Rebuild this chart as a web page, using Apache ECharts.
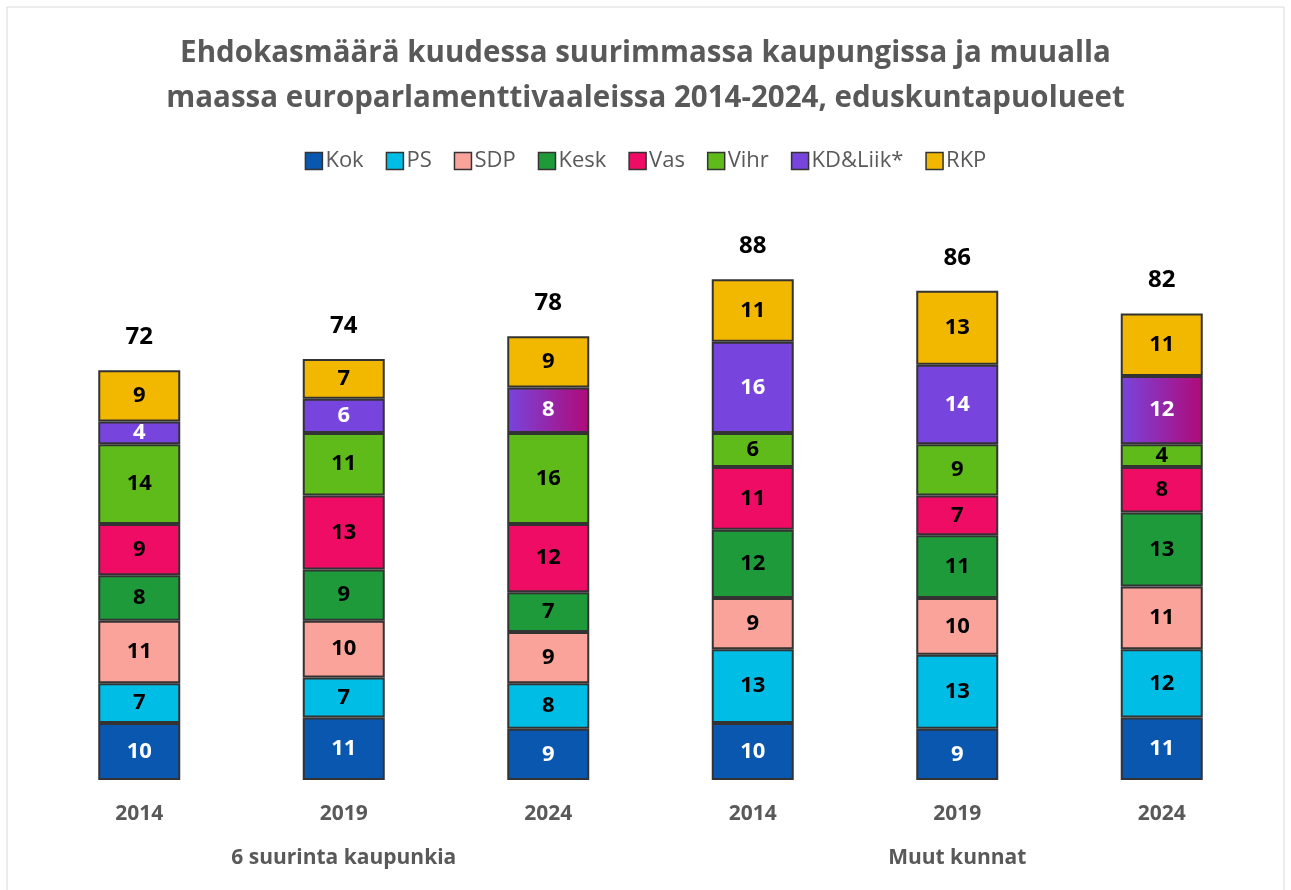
<!DOCTYPE html>
<html>
<head>
<meta charset="utf-8">
<script src="https://cdn.jsdelivr.net/npm/echarts@6/dist/echarts.min.js"></script>
<style>
  html, body { margin: 0; padding: 0; background: #fff; }
  #main { width: 1291px; height: 890px; }
</style>
</head>
<body>
<div id="main"></div>
<script>
var years = ['2014', '2019', '2024', '2014', '2019', '2024'];
var groups = ['', '6 suurinta kaupunkia', '', '', 'Muut kunnat', ''];

var kok  = [10, 11, 9, 10, 9, 11];
var ps   = [7, 7, 8, 13, 13, 12];
var sdp  = [11, 10, 9, 9, 10, 11];
var kesk = [8, 9, 7, 12, 11, 13];
var vas  = [9, 13, 12, 11, 7, 8];
var vihr = [14, 11, 16, 6, 9, 4];
var kd   = [4, 6, 8, 16, 14, 12];
var rkp  = [9, 7, 9, 11, 13, 11];

var parties = [
  { name: 'Kok', data: kok, color: '#0a57b0', text: '#fff' },
  { name: 'PS', data: ps, color: '#00bde5', text: '#000' },
  { name: 'SDP', data: sdp, color: '#f9a39a', text: '#000' },
  { name: 'Kesk', data: kesk, color: '#1f9a3b', text: '#000' },
  { name: 'Vas', data: vas, color: '#ef0c65', text: '#000' },
  { name: 'Vihr', data: vihr, color: '#5fbb1a', text: '#000' },
  { name: 'KD&Liik*', data: kd, color: '#7745dd', text: '#fff' },
  { name: 'RKP', data: rkp, color: '#f2b800', text: '#000' }
];

var totals = years.map(function (y, i) {
  return parties.reduce(function (s, p) { return s + p.data[i]; }, 0);
});

var kdGradient = new echarts.graphic.LinearGradient(0, 0, 1, 0, [
  { offset: 0, color: '#7745dd' },
  { offset: 1, color: '#b00a78' }
]);

var font = '"Open Sans", "Noto Sans", sans-serif';

var series = parties.map(function (p) {
  var data = p.data.map(function (v, i) {
    if (p.name === 'KD&Liik*' && years[i] === '2024') {
      return { value: v, itemStyle: { color: kdGradient } };
    }
    return v;
  });
  return {
    name: p.name,
    type: 'bar',
    stack: 'all',
    barWidth: 82,
    data: data,
    itemStyle: { color: p.color, borderColor: '#333', borderWidth: 2 },
    label: {
      show: true,
      position: 'inside',
      color: p.text,
      fontFamily: font,
      fontWeight: 'bold',
      fontSize: 22
    },
    emphasis: { disabled: true }
  };
});

series.push({
  name: 'total',
  type: 'bar',
  stack: 'all',
  barWidth: 82,
  data: totals.map(function () { return 0; }),
  itemStyle: { color: 'transparent' },
  label: {
    show: true,
    position: 'top',
    distance: 21,
    color: '#000',
    fontFamily: font,
    fontWeight: 'bold',
    fontSize: 24,
    formatter: function (params) { return totals[params.dataIndex]; }
  },
  emphasis: { disabled: true }
});

var myChart = echarts.init(document.getElementById('main'));
var option = {
  backgroundColor: '#fff',
  animation: false,
  graphic: [{
    type: 'rect',
    shape: { x: 7, y: 7, width: 1277, height: 890 },
    style: { fill: 'none', stroke: '#d9d9d9', lineWidth: 1 },
    silent: true
  }],
  title: {
    text: 'Ehdokasmäärä kuudessa suurimmassa kaupungissa ja muualla\nmaassa europarlamenttivaaleissa 2014-2024, eduskuntapuolueet',
    left: 'center',
    top: 26,
    textStyle: {
      color: '#595959',
      fontFamily: font,
      fontWeight: 'bold',
      fontSize: 29.5,
      lineHeight: 45
    }
  },
  legend: {
    top: 145,
    left: 'center',
    icon: 'rect',
    data: parties.map(function (p) { return p.name; }),
    itemWidth: 17,
    itemHeight: 17,
    itemGap: 22,
    textStyle: { color: '#595959', fontFamily: font, fontSize: 22, padding: [0, 0, 0, -2] },
    itemStyle: { borderColor: '#333', borderWidth: 1.5 }
  },
  grid: { left: 37, right: 27, top: 211, bottom: 110 },
  xAxis: [{
    type: 'category',
    data: years,
    axisLine: { show: false },
    axisTick: { show: false },
    axisLabel: {
      color: '#595959',
      fontFamily: font,
      fontWeight: 'bold',
      fontSize: 21,
      margin: 24
    }
  }, {
    type: 'category',
    position: 'bottom',
    offset: 60,
    data: groups,
    axisLine: { show: false },
    axisTick: { show: false },
    axisLabel: {
      color: '#595959',
      fontFamily: font,
      fontWeight: 'bold',
      fontSize: 21,
      interval: 0
    }
  }],
  yAxis: {
    type: 'value',
    min: 0,
    max: 100,
    show: false,
    splitLine: { show: false }
  },
  series: series
};
myChart.setOption(option);
</script>
</body>
</html>
